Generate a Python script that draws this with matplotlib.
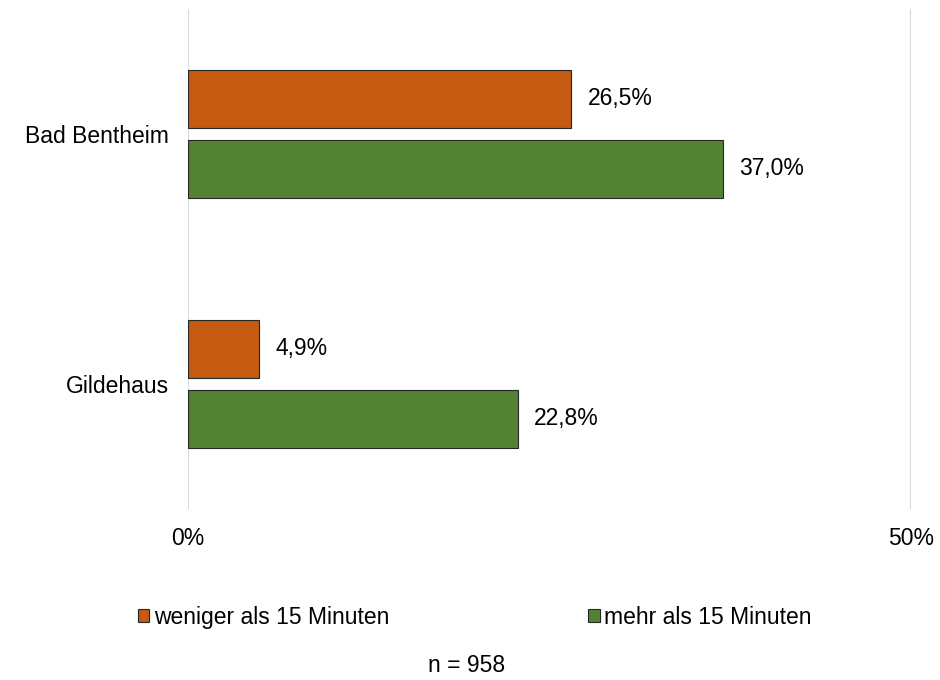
import matplotlib.pyplot as plt
from matplotlib.patches import Patch

# Data
orte = ["Bad Bentheim", "Gildehaus"]
weniger = [26.5, 4.9]
mehr = [37.0, 22.8]
serien = ["weniger als 15 Minuten", "mehr als 15 Minuten"]
farben = ["#C55A11", "#548235"]

plt.rcParams['font.family'] = ['Liberation Sans', 'DejaVu Sans']
fs = 16.5

fig = plt.figure(figsize=(9.4, 6.8), dpi=100)
# plot area: x 188..911 px, y 9..509 px
ax = fig.add_axes([0.2, 0.2515, 0.769, 0.7355])

h = 0.232
off = 0.14
pos = list(range(len(orte)))

for werte, farbe, d in [(weniger, farben[0], -off), (mehr, farben[1], off)]:
    y = [p + d for p in pos]
    bars = ax.barh(y, werte, height=h, color=farbe, edgecolor="#262626", linewidth=0.8, zorder=3)
    for b, v in zip(bars, werte):
        ax.annotate(f"{v:.1f}%".replace(".", ","), (b.get_width(), b.get_y() + b.get_height() / 2),
                    xytext=(12, 0), textcoords="offset points", va="center", ha="left", fontsize=fs)

ax.set_xlim(0, 50)
ax.set_ylim(1.5, -0.5)
ax.set_xticks([0, 50])
ax.set_xticklabels(["0%", "50%"], fontsize=fs)
ax.set_yticks(pos)
ax.set_yticklabels(orte, fontsize=fs)
ax.tick_params(length=0)
ax.tick_params(axis="x", pad=13)
ax.tick_params(axis="y", pad=14)
ax.grid(axis="x", color="#D9D9D9", linewidth=1.5, zorder=0)
for s in ax.spines.values():
    s.set_visible(False)

handles = [Patch(facecolor=f, edgecolor="#262626", linewidth=0.8, label=l) for f, l in zip(farben, serien)]
fig.legend(handles=handles, loc="center", bbox_to_anchor=(0.505, 0.0926), ncol=2, frameon=False,
           fontsize=fs, handlelength=0.5, handleheight=0.5, handletextpad=0.2, columnspacing=8.7,
           borderpad=0, borderaxespad=0)

fig.text(0.496, 0.0206, "n = 958", ha="center", va="center", fontsize=fs)

fig.savefig("out.png", dpi=100)
